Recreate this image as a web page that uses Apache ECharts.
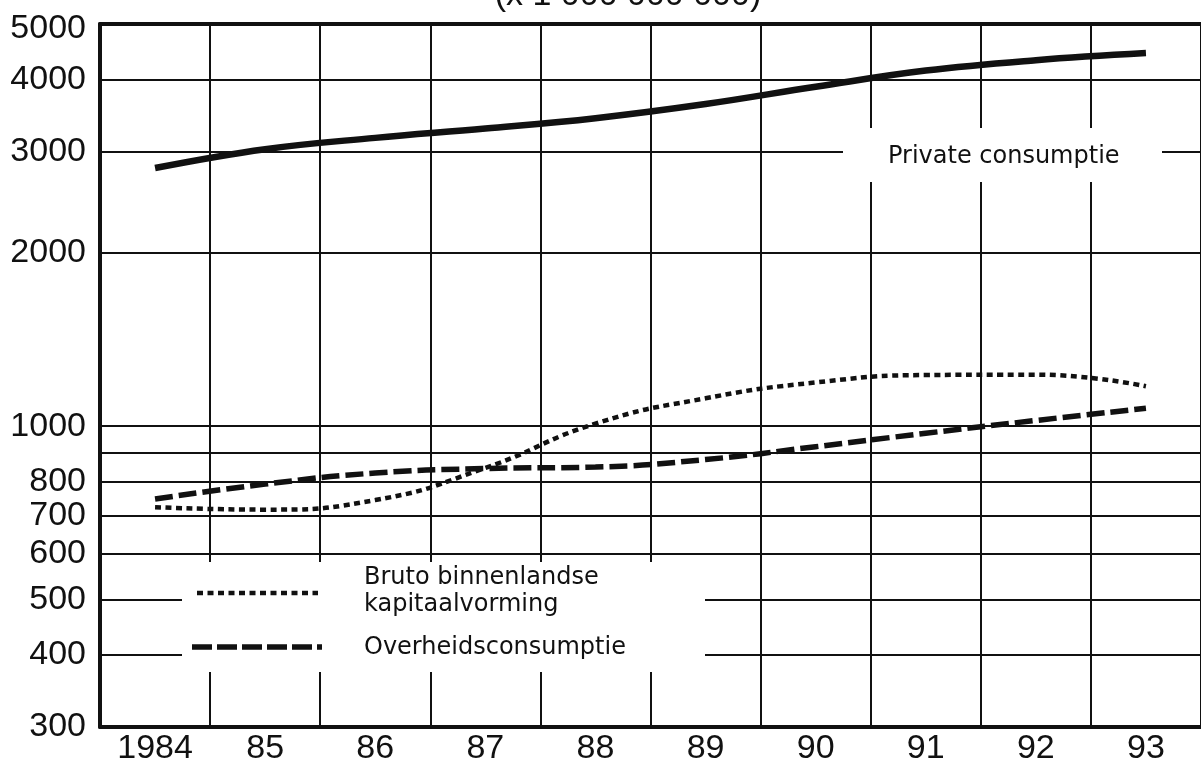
<!DOCTYPE html>
<html>
<head>
<meta charset="utf-8">
<script src="https://cdn.jsdelivr.net/npm/echarts@6/dist/echarts.min.js"></script>
<style>
  html, body { margin: 0; padding: 0; background: #fff; }
  #chart { width: 1201px; height: 766px; }
</style>
</head>
<body>
<div id="chart"></div>
<script>
// Years on the horizontal axis
const years = ['1984', '85', '86', '87', '88', '89', '90', '91', '92', '93'];

// Values per year (log scale, x 1 000 000 000)
const privateConsumptie   = [2810, 3030, 3170, 3290, 3430, 3630, 3890, 4150, 4325, 4450];
const kapitaalvorming     = [723, 716, 744, 846, 1010, 1118, 1191, 1227, 1229, 1173];
const overheidsconsumptie = [747, 793, 829, 844, 849, 875, 921, 972, 1023, 1074];

// Horizontal grid lines and the labelled subset of them
const yGridValues  = [300, 400, 500, 600, 700, 800, 900, 1000, 2000, 3000, 4000, 5000];
const yLabelValues = [300, 400, 500, 600, 700, 800, 1000, 2000, 3000, 4000, 5000];

const ink = '#111';
const axisFont = 'Liberation Sans';
const noteFont = 'DejaVu Sans';

const chart = echarts.init(document.getElementById('chart'), null, { renderer: 'canvas' });

chart.setOption({
  animation: false,
  backgroundColor: '#fff',
  grid: { left: 100, right: -3, top: 24, bottom: 39 },
  xAxis: [{
    type: 'category',
    data: years,
    boundaryGap: true,
    axisLine: { show: true, onZero: false, lineStyle: { color: ink, width: 4 } },
    axisTick: { show: false },
    axisLabel: { interval: 0, margin: 5, color: ink, fontFamily: axisFont, fontSize: 34 },
    splitLine: { show: true, interval: 0, lineStyle: { color: ink, width: 2 } }
  }, {
    type: 'category',
    data: years,
    position: 'top',
    axisLine: { show: true, onZero: false, lineStyle: { color: ink, width: 4 } },
    axisTick: { show: false },
    axisLabel: { show: false },
    splitLine: { show: false }
  }],
  yAxis: {
    type: 'log',
    logBase: 10,
    min: 300,
    max: 5000,
    axisLine: { show: true, lineStyle: { color: ink, width: 4 } },
    axisTick: { show: false, customValues: yGridValues },
    axisLabel: {
      customValues: yLabelValues,
      margin: 14,
      color: ink,
      fontFamily: axisFont,
      fontSize: 34,
      formatter: function (v) {
        const n = Math.round(v);
        return n === 5000 ? '{top|' + n + '}' : String(n);
      },
      rich: {
        top: { padding: [10, 0, 0, 0], color: ink, fontFamily: axisFont, fontSize: 34 }
      }
    },
    splitLine: { show: true, lineStyle: { color: ink, width: 2 } }
  },
  series: [{
    name: 'Private consumptie',
    type: 'line',
    data: privateConsumptie,
    smooth: 0.4,
    symbol: 'none',
    lineStyle: { color: ink, width: 6.5, cap: 'butt' },
    z: 3
  }, {
    name: 'Bruto binnenlandse kapitaalvorming',
    type: 'line',
    data: kapitaalvorming,
    smooth: 0.5,
    symbol: 'none',
    lineStyle: { color: ink, width: 4.5, type: [6, 4.5], cap: 'butt' },
    z: 3
  }, {
    name: 'Overheidsconsumptie',
    type: 'line',
    data: overheidsconsumptie,
    smooth: 0.5,
    symbol: 'none',
    lineStyle: { color: ink, width: 5.5, type: [18, 6], cap: 'butt' },
    z: 3
  }],
  graphic: [
    // unit line above the plot
    { type: 'text', z: 3, x: 628, y: 13,
      style: { text: '(x 1 000 000 000)', fill: ink, font: '34px "Liberation Sans"',
               textAlign: 'center', textVerticalAlign: 'bottom' } },
    // cleared area behind the legend
    { type: 'rect', z: 1, shape: { x: 182, y: 562, width: 523, height: 110 },
      style: { fill: '#fff' } },
    // cleared area behind the series label
    { type: 'rect', z: 1, shape: { x: 843, y: 128, width: 319, height: 54 },
      style: { fill: '#fff' } },
    { type: 'text', z: 3, x: 888, y: 157,
      style: { text: 'Private consumptie', fill: ink, font: '24px "' + noteFont + '"',
               textAlign: 'left', textVerticalAlign: 'middle' } },
    // legend
    { type: 'line', z: 3, shape: { x1: 197, y1: 593, x2: 318, y2: 593 },
      style: { stroke: ink, lineWidth: 4.5, lineDash: [6, 4.5] } },
    { type: 'text', z: 3, x: 364, y: 578,
      style: { text: 'Bruto binnenlandse', fill: ink, font: '24px "' + noteFont + '"',
               textAlign: 'left', textVerticalAlign: 'middle' } },
    { type: 'text', z: 3, x: 364, y: 605,
      style: { text: 'kapitaalvorming', fill: ink, font: '24px "' + noteFont + '"',
               textAlign: 'left', textVerticalAlign: 'middle' } },
    { type: 'line', z: 3, shape: { x1: 192, y1: 647, x2: 322, y2: 647 },
      style: { stroke: ink, lineWidth: 5.5, lineDash: [20, 5] } },
    { type: 'text', z: 3, x: 364, y: 648,
      style: { text: 'Overheidsconsumptie', fill: ink, font: '24px "' + noteFont + '"',
               textAlign: 'left', textVerticalAlign: 'middle' } }
  ]
});
</script>
</body>
</html>
